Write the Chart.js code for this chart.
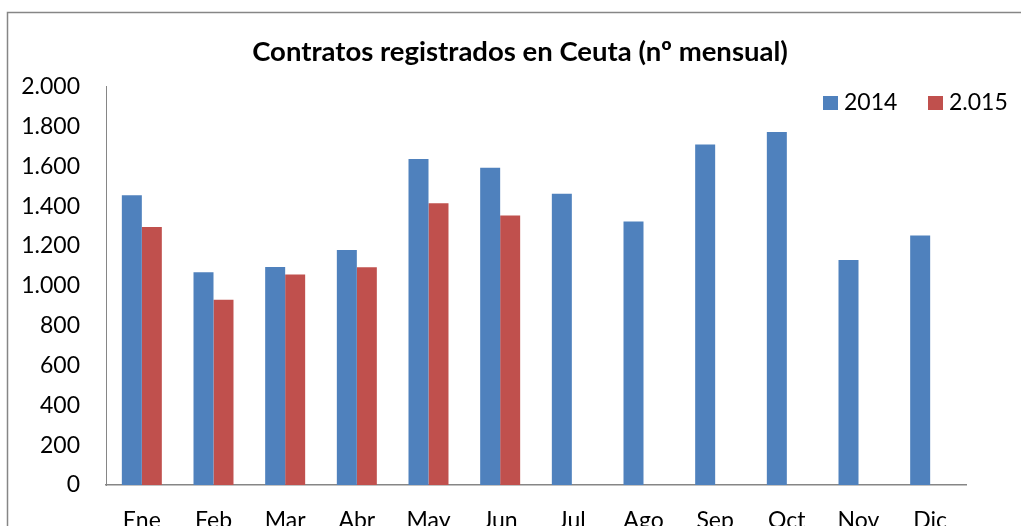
<!DOCTYPE html>
<html lang="es">
<head>
<meta charset="utf-8">
<title>Contratos registrados en Ceuta</title>
<script src="https://cdn.jsdelivr.net/npm/chart.js@4/dist/chart.umd.min.js"></script>
<style>
  html, body { margin: 0; padding: 0; background: #ffffff; }
  #chart { display: block; }
</style>
</head>
<body>
<canvas id="chart" width="1021" height="526"></canvas>
<script>
const months = ["Ene", "Feb", "Mar", "Abr", "May", "Jun", "Jul", "Ago", "Sep", "Oct", "Nov", "Dic"];
const values2014 = [1455, 1068, 1095, 1180, 1637, 1593, 1463, 1323, 1710, 1773, 1130, 1253];
const values2015 = [1295, 930, 1057, 1093, 1415, 1353, null, null, null, null, null, null];
const seriesNames = ["2014", "2.015"];

const blue = "#4f81bd";
const red = "#c0504d";
const axisGray = "#868686";
const fontFamily = "Lato, 'Open Sans', sans-serif";

function formatThousands(value) {
  return String(value).replace(/\B(?=(\d{3})+(?!\d))/g, ".");
}

// outer frame of the chart object, as in the spreadsheet export
const framePlugin = {
  id: "frame",
  beforeDraw(chart) {
    const ctx = chart.ctx;
    ctx.save();
    ctx.fillStyle = "#ffffff";
    ctx.fillRect(0, 0, chart.width, chart.height);
    ctx.strokeStyle = axisGray;
    ctx.lineWidth = 1.5;
    ctx.strokeRect(7.5, 12.5, chart.width + 20, chart.height + 20);
    ctx.restore();
  }
};

// legend sits inside the plot, top right, overlapping the area past the axis
const cornerLegend = {
  id: "cornerLegend",
  afterDraw(chart) {
    const ctx = chart.ctx;
    const spots = [823, 928];
    ctx.save();
    ctx.font = "23px " + fontFamily;
    ctx.textBaseline = "middle";
    ctx.textAlign = "left";
    chart.data.datasets.forEach((dataset, i) => {
      const x = spots[i];
      ctx.fillStyle = dataset.backgroundColor;
      ctx.fillRect(x, 96, 15, 14);
      ctx.fillStyle = "#000000";
      ctx.fillText(dataset.label, x + 21, 103);
    });
    ctx.restore();
  }
};

new Chart(document.getElementById("chart"), {
  type: "bar",
  data: {
    labels: months,
    datasets: [
      {
        label: seriesNames[0],
        data: values2014,
        backgroundColor: blue,
        categoryPercentage: 0.558,
        barPercentage: 1
      },
      {
        label: seriesNames[1],
        data: values2015,
        backgroundColor: red,
        categoryPercentage: 0.558,
        barPercentage: 1
      }
    ]
  },
  options: {
    responsive: false,
    animation: false,
    layout: {
      padding: { left: 19, right: 0, top: 13, bottom: 0 }
    },
    plugins: {
      legend: { display: false },
      tooltip: { enabled: false },
      title: {
        display: true,
        text: "Contratos registrados en Ceuta (nº mensual)",
        color: "#000000",
        font: { family: fontFamily, size: 27.5, weight: "bold", lineHeight: 1.2 },
        padding: { top: 22.5, bottom: 18.2 }
      }
    },
    scales: {
      x: {
        grid: { display: false, drawTicks: false },
        border: { display: true, color: axisGray, width: 1.5 },
        ticks: {
          color: "#000000",
          font: { family: fontFamily, size: 23 },
          padding: 22,
          maxRotation: 0
        },
        afterFit(scale) {
          scale.height = 41;
        }
      },
      y: {
        min: 0,
        max: 2000,
        grid: { display: false, drawTicks: false },
        border: { display: true, color: axisGray, width: 1 },
        ticks: {
          stepSize: 200,
          color: "#000000",
          font: { family: fontFamily, size: 23 },
          padding: 26,
          callback: (value) => formatThousands(value)
        },
        afterFit(scale) {
          scale.width = 87;
        }
      },
      // empty right-hand axis only reserves the blank strip where the legend overhangs
      spacer: {
        type: "linear",
        position: "right",
        display: true,
        grid: { display: false, drawTicks: false },
        border: { display: false },
        ticks: { display: false },
        afterFit(scale) {
          scale.width = 55;
        }
      }
    }
  },
  plugins: [framePlugin, cornerLegend]
});
</script>
</body>
</html>
